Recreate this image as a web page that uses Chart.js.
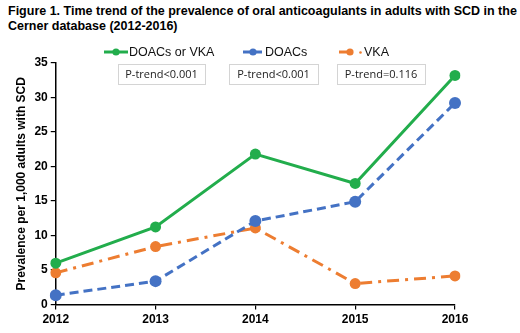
<!DOCTYPE html>
<html>
<head>
<meta charset="utf-8">
<script src="https://cdn.jsdelivr.net/npm/chart.js@4.4.1/dist/chart.umd.min.js"></script>
<style>
  html, body { margin: 0; padding: 0; background: #fff; }
  #wrap { position: relative; width: 520px; height: 333px; }
  #title {
    position: absolute; left: 8px; top: 4px; width: 512px;
    font: bold 12.5px "Liberation Sans", Arial, sans-serif;
    line-height: 14.5px; color: #000; white-space: nowrap;
  }
  canvas { position: absolute; left: 0; top: 0; }
</style>
</head>
<body>
<div id="wrap">
  <div id="title">Figure 1. Time trend of the prevalence of oral anticoagulants in adults with SCD in the<br>Cerner database (2012-2016)</div>
  <canvas id="chart" width="520" height="333"></canvas>
</div>
<script>
const years = ['2012', '2013', '2014', '2015', '2016'];
const seriesNames = ['DOACs or VKA', 'DOACs', 'VKA'];
const anyOac = [6.0, 11.25, 21.8, 17.55, 33.2];
const doacs = [1.35, 3.4, 12.1, 14.9, 29.2];
const vka = [4.6, 8.4, 11.1, 3.05, 4.15];
const trendLabels = ['P-trend<0.001', 'P-trend<0.001', 'P-trend=0.116'];
const yTicks = [0, 5, 10, 15, 20, 25, 30, 35];

const GREEN = '#22ad4c';
const BLUE = '#4472c4';
const ORANGE = '#ed7d31';

// legend + p-trend boxes, placed like in the original figure
const legendBoxes = {
    id: 'legendBoxes',
    afterDraw(chart) {
        const ctx = chart.ctx;
        const ds = chart.data.datasets;
        // [line start, line end, dot x, text x]
        const items = [[104, 128, 116, 129], [243, 262, 253, 265], [339, 352, 350, 364]];
        ctx.save();
        ctx.font = '12.5px "Liberation Sans", Arial, sans-serif';
        ctx.textBaseline = 'middle';
        items.forEach((it, i) => {
            const col = ds[i].borderColor;
            ctx.strokeStyle = col;
            ctx.fillStyle = col;
            ctx.lineWidth = 3;
            ctx.beginPath();
            ctx.moveTo(it[0], 52);
            ctx.lineTo(it[1], 52);
            ctx.stroke();
            ctx.beginPath();
            ctx.arc(it[2], 52, 3.6, 0, Math.PI * 2);
            ctx.fill();
            if (i === 2) {
                ctx.beginPath();
                ctx.arc(360.5, 52.5, 1.3, 0, Math.PI * 2);
                ctx.fill();
            }
            ctx.fillStyle = '#111';
            ctx.fillText(ds[i].label, it[3], 52.5);
        });

        const boxes = [[118, 87], [229, 89], [337, 88]];
        ctx.font = '11px "Open Sans", "Liberation Sans", sans-serif';
        ctx.textAlign = 'center';
        boxes.forEach((b, i) => {
            ctx.fillStyle = '#fff';
            ctx.fillRect(b[0], 64, b[1], 20);
            ctx.strokeStyle = '#d4d4d4';
            ctx.lineWidth = 1;
            ctx.strokeRect(b[0] + 0.5, 64.5, b[1], 20);
            ctx.fillStyle = '#222';
            ctx.fillText(trendLabels[i], b[0] + b[1] / 2, 74.5);
        });
        ctx.restore();
    }
};

const ctx = document.getElementById('chart').getContext('2d');

new Chart(ctx, {
    type: 'line',
    data: {
        labels: years,
        datasets: [{
            label: seriesNames[0],
            data: anyOac,
            borderColor: GREEN,
            backgroundColor: GREEN,
            borderWidth: 3,
            pointRadius: 5.5,
            pointBorderWidth: 0
        }, {
            label: seriesNames[1],
            data: doacs,
            borderColor: BLUE,
            backgroundColor: BLUE,
            borderWidth: 3,
            borderDash: [9, 5],
            pointRadius: 6,
            pointBorderWidth: 0
        }, {
            label: seriesNames[2],
            data: vka,
            borderColor: ORANGE,
            backgroundColor: ORANGE,
            borderWidth: 3,
            borderDash: [12, 6, 3, 6],
            pointRadius: 5.5,
            pointBorderWidth: 0
        }]
    },
    options: {
        responsive: false,
        animation: false,
        layout: { padding: { left: 14, right: 65, top: 63, bottom: 3 } },
        plugins: {
            tooltip: { enabled: false },
            legend: { display: false }
        },
        scales: {
            x: {
                offset: false,
                grid: { drawOnChartArea: false, color: '#000', tickLength: 5, lineWidth: 1.2 },
                border: { color: '#000', width: 1.5 },
                ticks: {
                    color: '#000',
                    padding: 3,
                    maxRotation: 0,
                    font: { family: '"Liberation Sans", Arial, sans-serif', size: 12, weight: 'bold' }
                }
            },
            y: {
                min: 0,
                max: 35,
                afterBuildTicks: function(axis) {
                    axis.ticks = yTicks.map(v => ({ value: v }));
                },
                grid: { drawOnChartArea: false, color: '#000', tickLength: 5, lineWidth: 1.2 },
                border: { color: '#000', width: 1.5 },
                ticks: {
                    color: '#000',
                    padding: 3,
                    font: { family: '"Liberation Sans", Arial, sans-serif', size: 12, weight: 'bold' }
                },
                title: {
                    display: true,
                    text: 'Prevalence per 1,000 adults with SCD',
                    color: '#000',
                    padding: { top: 0, bottom: 3 },
                    font: { family: '"Liberation Sans", Arial, sans-serif', size: 12, weight: 'bold' }
                }
            }
        }
    },
    plugins: [legendBoxes]
});
</script>
</body>
</html>
